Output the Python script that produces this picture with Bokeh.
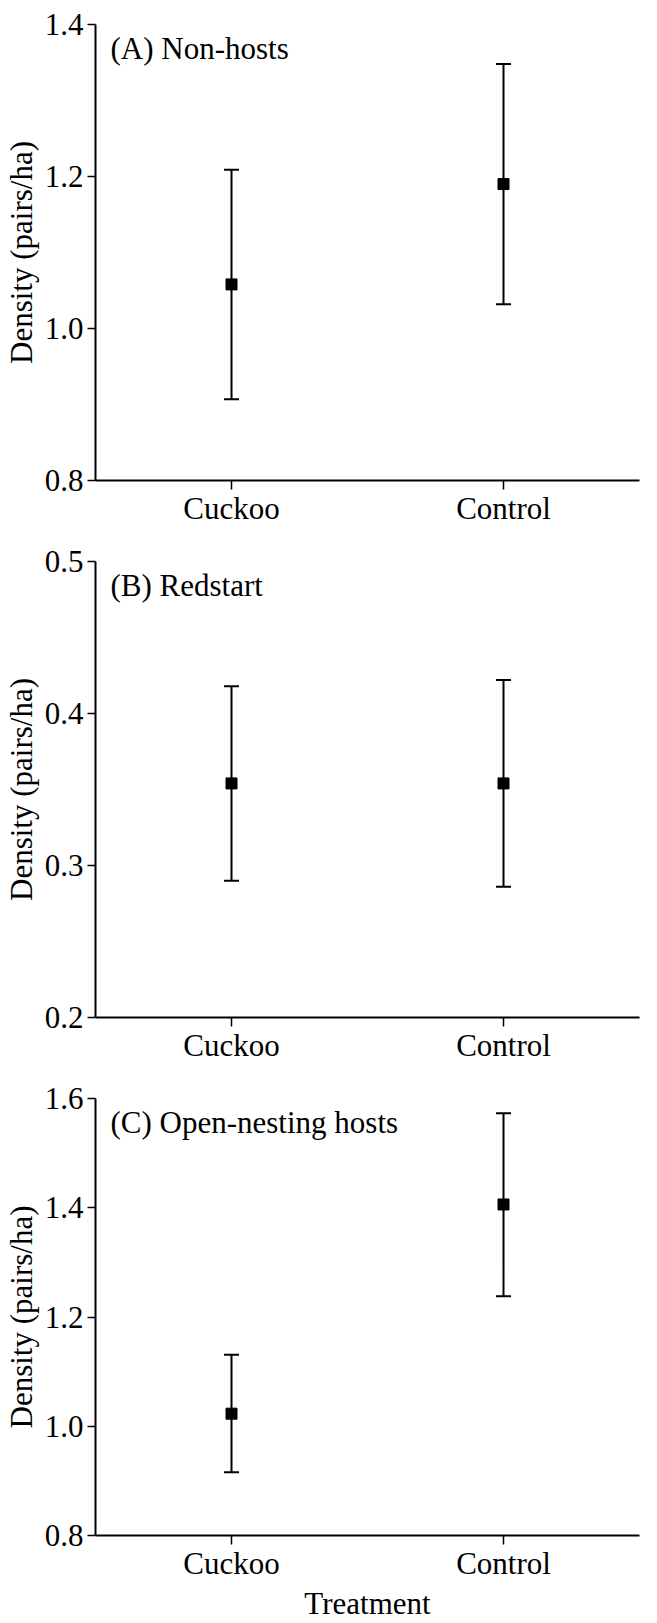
from bokeh.plotting import figure
from bokeh.models import (FactorRange, Range1d, Whisker, ColumnDataSource, Label,
                          FixedTicker, PrintfTickFormatter, TeeHead)
from bokeh.layouts import column
from bokeh.embed import file_html
from bokeh.resources import INLINE

categories = ["Cuckoo", "Control"]

a_mean = [1.058, 1.190]
a_low = [0.907, 1.032]
a_high = [1.209, 1.348]

b_mean = [0.354, 0.354]
b_low = [0.290, 0.286]
b_high = [0.418, 0.422]

c_mean = [1.023, 1.406]
c_low = [0.916, 1.238]
c_high = [1.131, 1.573]

a_ticks = [0.8, 1.0, 1.2, 1.4]
b_ticks = [0.2, 0.3, 0.4, 0.5]
c_ticks = [0.8, 1.0, 1.2, 1.4, 1.6]

FONT = "Liberation Serif"
FS = "31px"


def panel(means, lows, highs, ticks, title, height, top, bottom, xlabel=None):
    p = figure(x_range=FactorRange(factors=categories, range_padding=0),
               y_range=Range1d(ticks[0], ticks[-1]),
               width=657, height=height, output_backend="svg", toolbar_location=None,
               min_border_left=95, min_border_right=18,
               min_border_top=top, min_border_bottom=bottom)
    p.outline_line_color = None
    p.xgrid.visible = False
    p.ygrid.visible = False
    p.background_fill_color = "white"
    p.border_fill_color = "white"

    src = ColumnDataSource(dict(x=categories, mean=means, lower=lows, upper=highs))
    w = Whisker(base="x", lower="lower", upper="upper", source=src, dimension="height",
                line_width=2, line_color="black",
                upper_head=TeeHead(size=15, line_width=2, line_color="black"),
                lower_head=TeeHead(size=15, line_width=2, line_color="black"))
    p.add_layout(w)
    p.scatter(x="x", y="mean", source=src, marker="square", size=11,
              fill_color="black", line_color="black")

    for ax in (p.xaxis[0], p.yaxis[0]):
        ax.axis_line_width = 2
        ax.axis_line_color = "black"
        ax.major_tick_line_width = 1.5
        ax.major_tick_line_color = "black"
        ax.major_tick_in = 0
        ax.minor_tick_line_color = None
        ax.major_label_text_font = FONT
        ax.major_label_text_font_size = FS
        ax.major_label_text_color = "black"
        ax.axis_label_text_font = FONT
        ax.axis_label_text_font_size = FS
        ax.axis_label_text_font_style = "normal"
        ax.axis_label_text_color = "black"

    p.xaxis.major_tick_out = 9
    p.xaxis.major_label_standoff = 1
    p.yaxis.major_tick_out = 8
    p.yaxis.major_label_standoff = 4
    p.yaxis.ticker = FixedTicker(ticks=ticks)
    p.yaxis.formatter = PrintfTickFormatter(format="%.1f")
    p.yaxis.axis_label = "Density (pairs/ha)"
    p.yaxis.axis_label_standoff = 3
    if xlabel:
        p.xaxis.axis_label = xlabel
        p.xaxis.axis_label_standoff = 2

    p.add_layout(Label(x=0, y=ticks[-1], x_offset=15, y_offset=-24, text=title,
                       text_font=FONT, text_font_size=FS, text_color="black",
                       text_baseline="alphabetic"))
    return p


pa = panel(a_mean, a_low, a_high, a_ticks, "(A) Non-hosts", 538, 24, 58)
pb = panel(b_mean, b_low, b_high, b_ticks, "(B) Redstart", 538, 23, 59)
pc = panel(c_mean, c_low, c_high, c_ticks, "(C) Open-nesting hosts", 547, 22, 87, "Treatment")

layout = column(pa, pb, pc, spacing=0)
open("out.html", "w").write(file_html(layout, INLINE))
